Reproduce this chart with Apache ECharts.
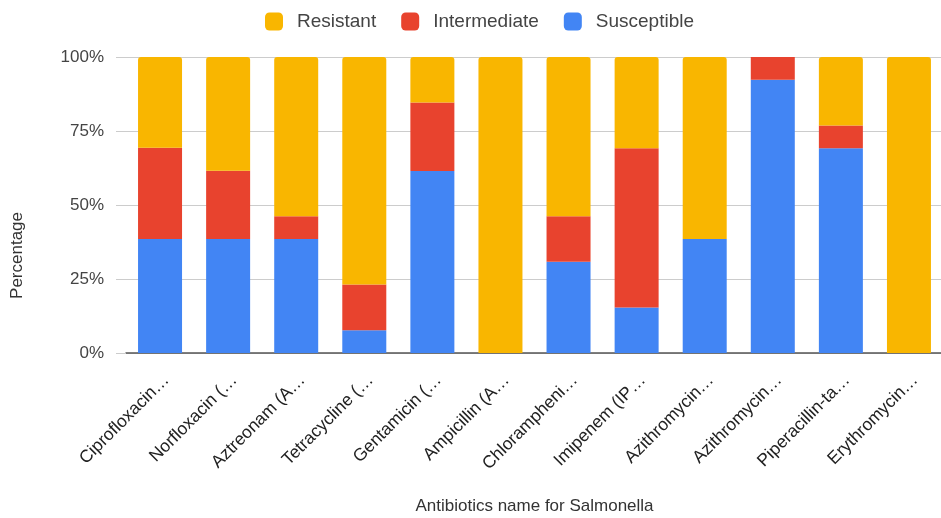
<!DOCTYPE html>
<html>
<head>
<meta charset="utf-8">
<script src="https://cdn.jsdelivr.net/npm/echarts@6/dist/echarts.min.js"></script>
<style>
  html, body { margin: 0; padding: 0; background: #fff; }
  #chart { width: 941px; height: 518px; }
</style>
</head>
<body>
<div id="chart"></div>
<script>
// Antibiotic susceptibility of Salmonella isolates (share of isolates, %)
const categories = [
  'Ciprofloxacin…', 'Norfloxacin (…', 'Aztreonam (A…', 'Tetracycline (…',
  'Gentamicin (…', 'Ampicillin (A…', 'Chlorampheni…', 'Imipenem (IP…',
  'Azithromycin…', 'Azithromycin…', 'Piperacillin-ta…', 'Erythromycin…'
];
const susceptible  = [38.5, 38.5, 38.5, 7.7, 61.5, 0, 30.8, 15.4, 38.5, 92.3, 69.2, 0];
const intermediate = [30.8, 23.1, 7.7, 15.4, 23.1, 0, 15.4, 53.8, 0, 7.7, 7.7, 0];
const resistant    = [30.7, 38.4, 53.8, 76.9, 15.4, 100, 53.8, 30.8, 61.5, 0, 23.1, 100];
const yTicks = [0, 25, 50, 75, 100];

const FONT = '"Liberation Sans", Arial, sans-serif';
const chart = echarts.init(document.getElementById('chart'));

chart.setOption({
  animation: false,
  textStyle: { fontFamily: FONT },
  legend: {
    top: 7,
    left: 260,
    itemWidth: 18,
    itemHeight: 18,
    itemGap: 25,
    icon: 'roundRect',
    textStyle: { fontSize: 19, color: '#444', fontFamily: FONT, padding: [0, 0, 0, 9] },
    data: ['Resistant', 'Intermediate', 'Susceptible']
  },
  grid: {
    left: 126, right: -2, top: 57, height: 296,
    containLabel: false, outerBoundsMode: 'none'
  },
  xAxis: {
    type: 'category',
    data: categories,
    name: 'Antibiotics name for Salmonella',
    nameLocation: 'middle',
    nameGap: 145,
    nameTextStyle: { fontSize: 17, color: '#333', fontFamily: FONT },
    axisLine: { lineStyle: { color: '#555', width: 1.5 } },
    axisTick: { show: false },
    axisLabel: {
      interval: 0,
      rotate: 45,
      fontSize: 17.5,
      color: '#222',
      margin: 18,
      verticalAlign: 'top',
      fontFamily: FONT
    }
  },
  yAxis: {
    type: 'value',
    min: yTicks[0],
    max: yTicks[yTicks.length - 1],
    interval: 25,
    axisLine: { show: false },
    axisTick: { show: true, length: 10, lineStyle: { color: '#ccc' } },
    splitLine: { lineStyle: { color: '#ccc', width: 1 } },
    axisLabel: {
      formatter: '{value}%',
      fontSize: 17,
      color: '#444',
      margin: 22,
      fontFamily: FONT
    }
  },
  graphic: [{
    type: 'text',
    left: 9,
    top: 212,
    rotation: Math.PI / 2,
    style: { text: 'Percentage', fontSize: 17, fill: '#333', fontFamily: FONT }
  }],
  series: [
    {
      name: 'Susceptible', type: 'bar', stack: 'total', barWidth: 44,
      itemStyle: { color: '#4285F4' }, data: susceptible
    },
    {
      name: 'Intermediate', type: 'bar', stack: 'total', barWidth: 44,
      itemStyle: { color: '#E8432E' }, data: intermediate
    },
    {
      name: 'Resistant', type: 'bar', stack: 'total', barWidth: 44,
      itemStyle: { color: '#F9B600', borderRadius: [3, 3, 0, 0] }, data: resistant
    }
  ]
});
</script>
</body>
</html>
